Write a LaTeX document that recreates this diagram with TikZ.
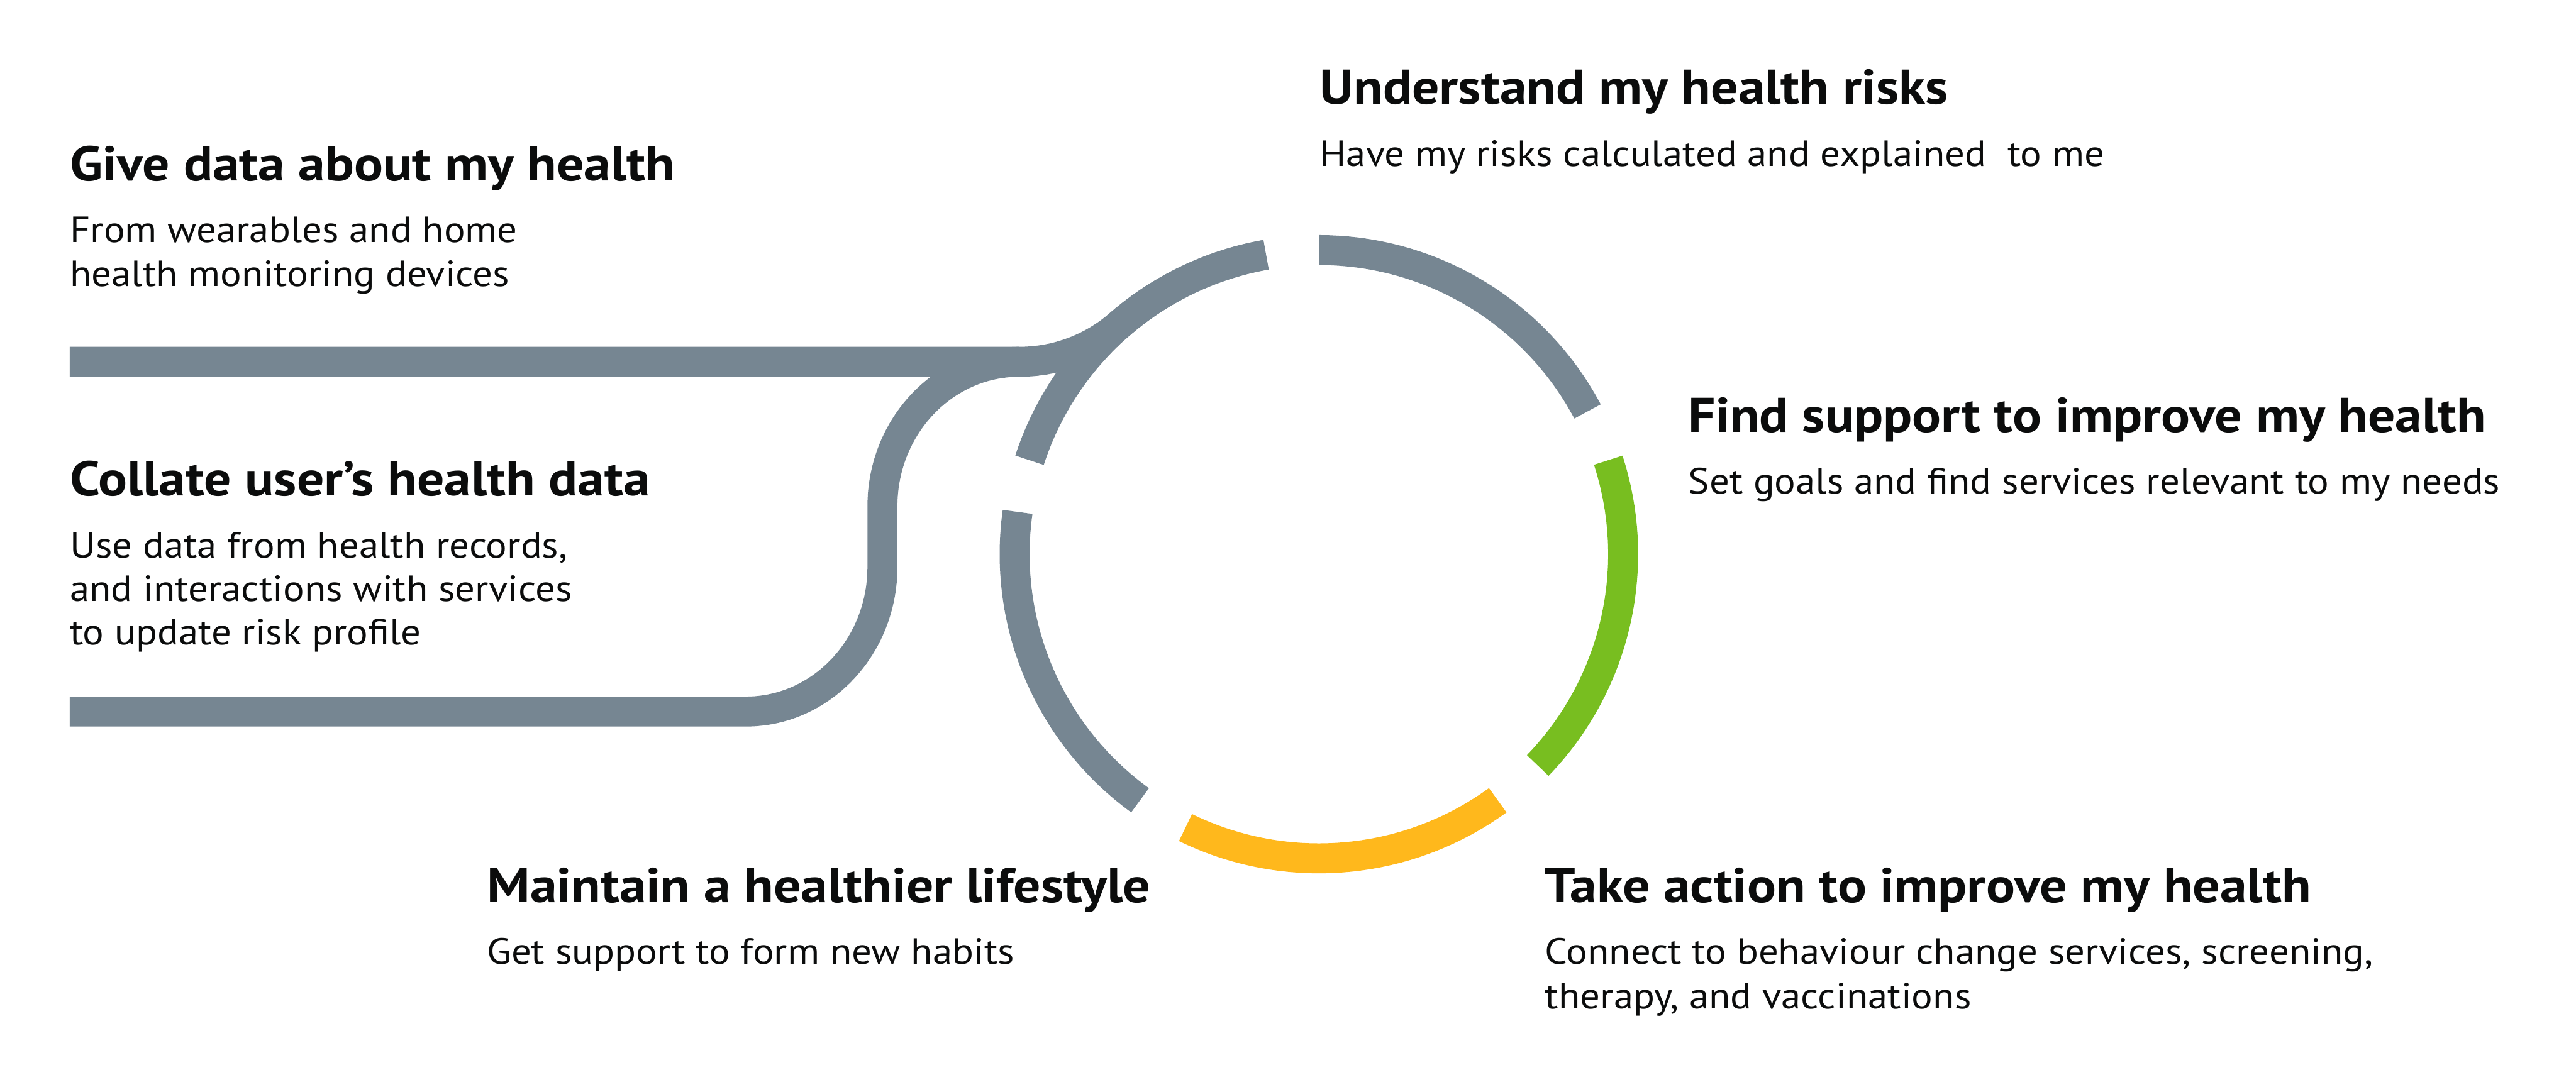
\documentclass[tikz,border=0pt]{standalone}
\usepackage{fontspec}
\setmainfont{PT Sans}[FakeStretch=1.085]
\newfontfamily\headfont{PT Sans}[FakeStretch=1.105]
\usepackage{tikz}
\definecolor{nhsgrey}{HTML}{768692}
\definecolor{nhsgreen}{HTML}{78BE20}
\definecolor{nhsyellow}{HTML}{FFB81C}
\definecolor{nhstext}{HTML}{0B0C0C}

\begin{document}
\begin{tikzpicture}[
		track/.style={line width=0.82cm, nhsgrey},
		heading/.style={anchor=base west, inner sep=0pt, text=nhstext, font=\headfont\fontsize{38}{46}\selectfont\bfseries},
		body/.style={anchor=base west, inner sep=0pt, text=nhstext, font=\fontsize{28.4}{34}\selectfont}
	]
				\useasboundingbox (0,0) rectangle (70.53,29.30);
				\coordinate (hub) at (36.11,14.12);
				
				\draw[track] (1.91,19.39) -- (27.91,19.39) arc[start angle=-90, end angle=-49.1, radius=4.187] arc[start angle=130.9, end angle=100, radius=8.33];
				\draw[track] (1.91,9.81) -- (20.42,9.81) arc[start angle=-90, end angle=0, x radius=3.74, y radius=3.96] -- (24.16,15.43) arc[start angle=180, end angle=90, x radius=3.75, y radius=3.96];
				
				\foreach \a/\b/\c in {90/28/nhsgrey, 18/-44/nhsgreen, -54/-116/nhsyellow, 234/172/nhsgrey, 162/100/nhsgrey}
					\draw[track, \c] ([shift={(\a:8.33)}]hub) arc[start angle=\a, end angle=\b, radius=8.33];
				
				\node[heading] (give) at (1.91,24.35) {Give data about my health};
				\node[body] (give1) at (1.91,22.66) {From wearables and home};
				\node[body] (give2) at (1.91,21.45) {health monitoring devices};
				
				\node[heading] (collate) at (1.91,15.72) {Collate user’s health data};
				\node[body] (collate1) at (1.91,14.02) {Use data from health records,};
				\node[body] (collate2) at (1.91,12.83) {and interactions with services};
				\node[body] (collate3) at (1.91,11.65) {to update risk profile};
				
				\node[heading] (risks) at (36.13,26.45) {Understand my health risks};
				\node[body] (risks1) at (36.13,24.75) {Have my risks calculated and explained\ \ to me};
				
				\node[heading] (support) at (46.22,17.47) {Find support to improve my health};
				\node[body] (support1) at (46.22,15.77) {Set goals and find services relevant to my needs};
				
				\node[heading] (action) at (42.30,4.58) {Take action to improve my health};
				\node[body] (action1) at (42.30,2.89) {Connect to behaviour change services, screening,};
				\node[body] (action2) at (42.30,1.68) {therapy, and vaccinations};
				
				\node[heading] (lifestyle) at (13.33,4.59) {Maintain a healthier lifestyle};
				\node[body] (lifestyle1) at (13.33,2.89) {Get support to form new habits};
			\end{tikzpicture}
\end{document}
